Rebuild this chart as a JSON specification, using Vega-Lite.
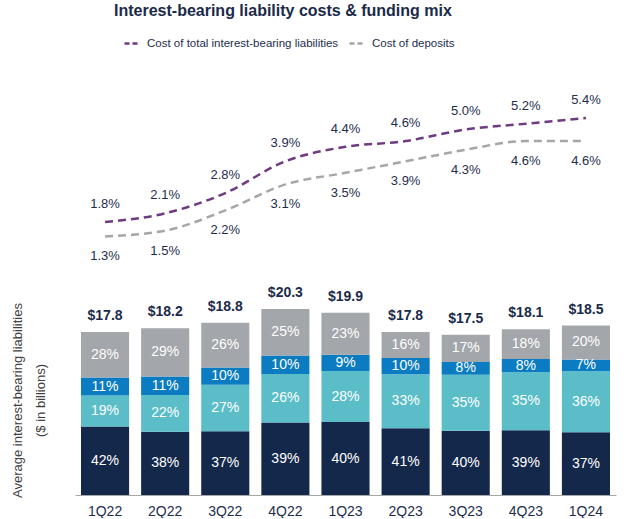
{
  "$schema": "https://vega.github.io/schema/vega-lite/v6.json",
  "padding": {"left": 11, "top": 3, "right": 5, "bottom": 0},
  "background": "white",
  "bounds": "flush",
  "spacing": 31,
  "config": {"font": "Liberation Sans", "view": {"stroke": null}},
  "title": {"text": "Interest-bearing liability costs & funding mix", "fontSize": 16, "fontWeight": "bold", "color": "#1B2A4A", "anchor": "start", "dx": 103, "offset": 15, "font": "Liberation Sans"},
  "resolve": {"scale": {"color": "independent", "x": "independent", "y": "independent"}, "legend": {"color": "independent"}},
  "datasets": {
    "rates": [
      {"quarter": "1Q22", "series": "Cost of total interest-bearing liabilities", "rate": 0.018},
      {"quarter": "2Q22", "series": "Cost of total interest-bearing liabilities", "rate": 0.021},
      {"quarter": "3Q22", "series": "Cost of total interest-bearing liabilities", "rate": 0.028},
      {"quarter": "4Q22", "series": "Cost of total interest-bearing liabilities", "rate": 0.039},
      {"quarter": "1Q23", "series": "Cost of total interest-bearing liabilities", "rate": 0.044},
      {"quarter": "2Q23", "series": "Cost of total interest-bearing liabilities", "rate": 0.046},
      {"quarter": "3Q23", "series": "Cost of total interest-bearing liabilities", "rate": 0.050},
      {"quarter": "4Q23", "series": "Cost of total interest-bearing liabilities", "rate": 0.052},
      {"quarter": "1Q24", "series": "Cost of total interest-bearing liabilities", "rate": 0.054},
      {"quarter": "1Q22", "series": "Cost of deposits", "rate": 0.013},
      {"quarter": "2Q22", "series": "Cost of deposits", "rate": 0.015},
      {"quarter": "3Q22", "series": "Cost of deposits", "rate": 0.022},
      {"quarter": "4Q22", "series": "Cost of deposits", "rate": 0.031},
      {"quarter": "1Q23", "series": "Cost of deposits", "rate": 0.035},
      {"quarter": "2Q23", "series": "Cost of deposits", "rate": 0.039},
      {"quarter": "3Q23", "series": "Cost of deposits", "rate": 0.043},
      {"quarter": "4Q23", "series": "Cost of deposits", "rate": 0.046},
      {"quarter": "1Q24", "series": "Cost of deposits", "rate": 0.046}
    ],
    "totals": [
      {"quarter": "1Q22", "total": 17.8},
      {"quarter": "2Q22", "total": 18.2},
      {"quarter": "3Q22", "total": 18.8},
      {"quarter": "4Q22", "total": 20.3},
      {"quarter": "1Q23", "total": 19.9},
      {"quarter": "2Q23", "total": 17.8},
      {"quarter": "3Q23", "total": 17.5},
      {"quarter": "4Q23", "total": 18.1},
      {"quarter": "1Q24", "total": 18.5}
    ],
    "mix": [
      {"quarter": "1Q22", "segment": "Segment 1", "share": 0.42, "amount": 7.476},
      {"quarter": "1Q22", "segment": "Segment 2", "share": 0.19, "amount": 3.382},
      {"quarter": "1Q22", "segment": "Segment 3", "share": 0.11, "amount": 1.958},
      {"quarter": "1Q22", "segment": "Segment 4", "share": 0.28, "amount": 4.984},
      {"quarter": "2Q22", "segment": "Segment 1", "share": 0.38, "amount": 6.916},
      {"quarter": "2Q22", "segment": "Segment 2", "share": 0.22, "amount": 4.004},
      {"quarter": "2Q22", "segment": "Segment 3", "share": 0.11, "amount": 2.002},
      {"quarter": "2Q22", "segment": "Segment 4", "share": 0.29, "amount": 5.278},
      {"quarter": "3Q22", "segment": "Segment 1", "share": 0.37, "amount": 6.956},
      {"quarter": "3Q22", "segment": "Segment 2", "share": 0.27, "amount": 5.076},
      {"quarter": "3Q22", "segment": "Segment 3", "share": 0.10, "amount": 1.88},
      {"quarter": "3Q22", "segment": "Segment 4", "share": 0.26, "amount": 4.888},
      {"quarter": "4Q22", "segment": "Segment 1", "share": 0.39, "amount": 7.917},
      {"quarter": "4Q22", "segment": "Segment 2", "share": 0.26, "amount": 5.278},
      {"quarter": "4Q22", "segment": "Segment 3", "share": 0.10, "amount": 2.03},
      {"quarter": "4Q22", "segment": "Segment 4", "share": 0.25, "amount": 5.075},
      {"quarter": "1Q23", "segment": "Segment 1", "share": 0.40, "amount": 7.96},
      {"quarter": "1Q23", "segment": "Segment 2", "share": 0.28, "amount": 5.572},
      {"quarter": "1Q23", "segment": "Segment 3", "share": 0.09, "amount": 1.791},
      {"quarter": "1Q23", "segment": "Segment 4", "share": 0.23, "amount": 4.577},
      {"quarter": "2Q23", "segment": "Segment 1", "share": 0.41, "amount": 7.298},
      {"quarter": "2Q23", "segment": "Segment 2", "share": 0.33, "amount": 5.874},
      {"quarter": "2Q23", "segment": "Segment 3", "share": 0.10, "amount": 1.78},
      {"quarter": "2Q23", "segment": "Segment 4", "share": 0.16, "amount": 2.848},
      {"quarter": "3Q23", "segment": "Segment 1", "share": 0.40, "amount": 7.0},
      {"quarter": "3Q23", "segment": "Segment 2", "share": 0.35, "amount": 6.125},
      {"quarter": "3Q23", "segment": "Segment 3", "share": 0.08, "amount": 1.4},
      {"quarter": "3Q23", "segment": "Segment 4", "share": 0.17, "amount": 2.975},
      {"quarter": "4Q23", "segment": "Segment 1", "share": 0.39, "amount": 7.059},
      {"quarter": "4Q23", "segment": "Segment 2", "share": 0.35, "amount": 6.335},
      {"quarter": "4Q23", "segment": "Segment 3", "share": 0.08, "amount": 1.448},
      {"quarter": "4Q23", "segment": "Segment 4", "share": 0.18, "amount": 3.258},
      {"quarter": "1Q24", "segment": "Segment 1", "share": 0.37, "amount": 6.845},
      {"quarter": "1Q24", "segment": "Segment 2", "share": 0.36, "amount": 6.66},
      {"quarter": "1Q24", "segment": "Segment 3", "share": 0.07, "amount": 1.295},
      {"quarter": "1Q24", "segment": "Segment 4", "share": 0.20, "amount": 3.7}
    ]
  },
  "vconcat": [
    {
      "width": 541,
      "height": 213,
      "data": {"name": "rates"},
      "encoding": {
        "x": {"field": "quarter", "type": "nominal", "sort": null, "axis": null, "scale": {"type": "band", "paddingInner": 0.2, "paddingOuter": 0.1}},
        "y": {"field": "rate", "type": "quantitative", "axis": null, "scale": {"domain": [0, 0.0737], "nice": false, "zero": true}}
      },
      "layer": [
        {
          "mark": {"type": "line", "interpolate": "monotone", "strokeDash": [8, 5], "strokeWidth": 2.5},
          "encoding": {
            "color": {
              "field": "series", "type": "nominal",
              "scale": {"domain": ["Cost of total interest-bearing liabilities", "Cost of deposits"], "range": ["#6E3A80", "#A6A6A6"]},
              "legend": {"title": null, "orient": "none", "legendX": 48, "legendY": -27, "direction": "horizontal", "symbolType": "stroke", "symbolStrokeWidth": 2.5, "symbolDash": [5, 3], "symbolSize": 256, "labelFontSize": 11.5, "labelColor": "#1E2D4E", "labelFont": "Liberation Sans", "labelOffset": 5, "columnPadding": 5, "labelLimit": 400}
            }
          }
        },
        {
          "transform": [{"filter": "datum.series === 'Cost of total interest-bearing liabilities'"}],
          "mark": {"type": "text", "dy": -18, "fontSize": 13, "color": "#1E2D4E", "baseline": "middle"},
          "encoding": {"text": {"field": "rate", "format": ".1%"}}
        },
        {
          "transform": [{"filter": "datum.series === 'Cost of deposits'"}],
          "mark": {"type": "text", "dy": 20, "fontSize": 13, "color": "#1E2D4E", "baseline": "middle"},
          "encoding": {"text": {"field": "rate", "format": ".1%"}}
        }
      ]
    },
    {
      "width": 541,
      "height": 190,
      "encoding": {
        "x": {"field": "quarter", "type": "nominal", "sort": null, "scale": {"type": "band", "paddingInner": 0.2, "paddingOuter": 0.1},
              "axis": {"title": null, "labelFontSize": 14, "labelColor": "#1E2D4E", "labelFont": "Liberation Sans", "ticks": false, "domainColor": "#A6A6A6", "domainWidth": 1, "labelPadding": 9, "labelAngle": 0}}
      },
      "layer": [
        {
          "data": {"name": "mix"},
          "transform": [{"stack": "amount", "groupby": ["quarter"], "sort": [{"field": "segment", "order": "ascending"}], "as": ["y0", "y1"]}],
          "mark": {"type": "bar"},
          "encoding": {
            "y": {"field": "y0", "type": "quantitative", "scale": {"domain": [0, 20.74], "nice": false},
                  "axis": {"title": ["Average interest-bearing liabilities", "($ in billions)"], "labels": false, "ticks": false, "domain": false, "grid": false, "titleFontSize": 13, "titleFontWeight": "normal", "titleColor": "#404040", "titleFont": "Liberation Sans", "titlePadding": 28, "titleLineHeight": 23}},
            "y2": {"field": "y1"},
            "color": {"field": "segment", "type": "nominal", "scale": {"domain": ["Segment 1", "Segment 2", "Segment 3", "Segment 4"], "range": ["#14284B", "#5ABDC8", "#0B7CC1", "#A3A6AA"]}, "legend": null}
          }
        },
        {
          "data": {"name": "mix"},
          "transform": [
            {"stack": "amount", "groupby": ["quarter"], "sort": [{"field": "segment", "order": "ascending"}], "as": ["y0", "y1"]},
            {"calculate": "(datum.y0 + datum.y1) / 2", "as": "ymid"}
          ],
          "mark": {"type": "text", "color": "white", "fontSize": 14, "baseline": "middle"},
          "encoding": {
            "y": {"field": "ymid", "type": "quantitative"},
            "text": {"field": "share", "format": ".0%"}
          }
        },
        {
          "data": {"name": "totals"},
          "mark": {"type": "text", "color": "#1B2A4A", "fontSize": 14, "fontWeight": "bold", "baseline": "bottom", "dy": -9},
          "encoding": {
            "y": {"field": "total", "type": "quantitative"},
            "text": {"field": "total", "format": "$.1f"}
          }
        }
      ]
    }
  ]
}
